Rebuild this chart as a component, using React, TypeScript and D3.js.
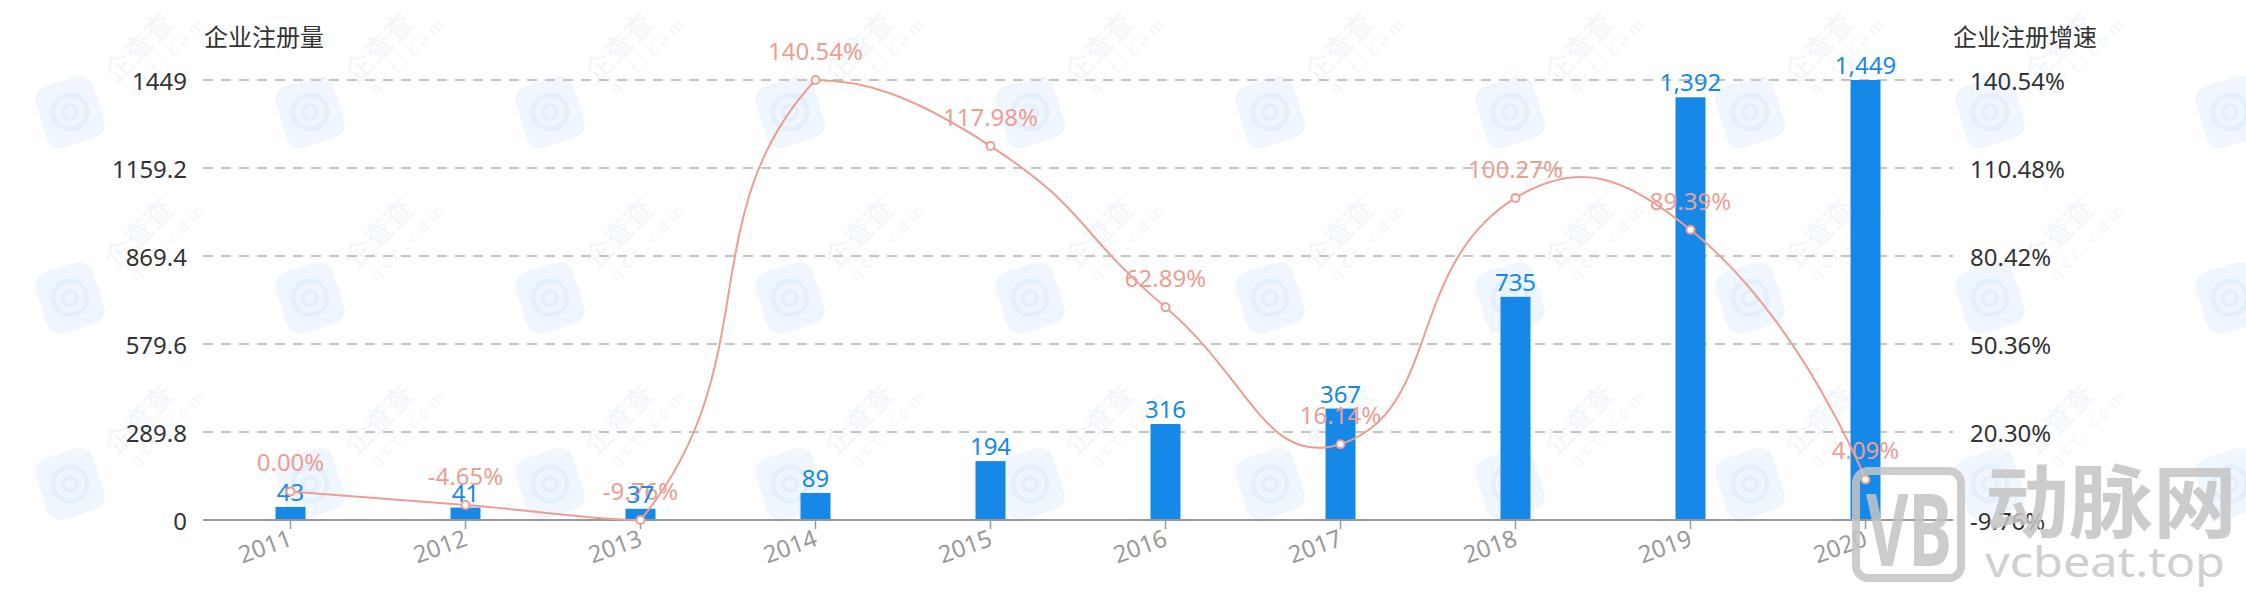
import React from "react";
import * as d3 from "d3";

const years = ["2011", "2012", "2013", "2014", "2015", "2016", "2017", "2018", "2019", "2020"];
const registrations = [43, 41, 37, 89, 194, 316, 367, 735, 1392, 1449];
const growthRates = [0.0, -4.65, -9.76, 140.54, 117.98, 62.89, 16.14, 100.27, 89.39, 4.09];
const leftTicks = [0, 289.8, 579.6, 869.4, 1159.2, 1449];
const rightTicks = [-9.76, 20.3, 50.36, 80.42, 110.48, 140.54];
const leftAxisName = "企业注册量";
const rightAxisName = "企业注册增速";

const W = 2246;
const H = 596;
const PLOT = { left: 203, right: 1953, top: 80, bottom: 520 };
const FONT = "'Noto Sans', 'Noto Sans CJK SC', sans-serif";
const BAR_COLOR = "#1689E8";
const LINE_COLOR = "#EC9E92";
const AXIS_TEXT = "#333";

// background watermark tiling (qcc)
const wmCols = d3.range(70, 2300, 240);
const wmRows = [112, 298, 484];

function echartsSmoothPath(pts: [number, number][], smooth = 0.5): string {
  const p = d3.path();
  const minX = d3.min(pts, (d) => d[0])!;
  const maxX = d3.max(pts, (d) => d[0])!;
  const minY = d3.min(pts, (d) => d[1])!;
  const maxY = d3.max(pts, (d) => d[1])!;
  const clamp = (c: number[]) => [
    Math.max(minX, Math.min(maxX, c[0])),
    Math.max(minY, Math.min(maxY, c[1])),
  ];
  let cp0 = [pts[0][0], pts[0][1]];
  p.moveTo(pts[0][0], pts[0][1]);
  for (let i = 1; i < pts.length; i++) {
    const cur = pts[i];
    const prev = pts[i - 1];
    const next = pts[i + 1];
    let cp1: number[];
    let ratio = 0.5;
    let v = [0, 0];
    if (!next) {
      cp1 = [cur[0], cur[1]];
    } else {
      v = [next[0] - prev[0], next[1] - prev[1]];
      const lp = Math.hypot(cur[0] - prev[0], cur[1] - prev[1]);
      const ln = Math.hypot(next[0] - cur[0], next[1] - cur[1]);
      ratio = ln / (ln + lp);
      cp1 = [cur[0] - v[0] * smooth * (1 - ratio), cur[1] - v[1] * smooth * (1 - ratio)];
    }
    const c0 = clamp(cp0);
    const c1 = clamp(cp1);
    p.bezierCurveTo(c0[0], c0[1], c1[0], c1[1], cur[0], cur[1]);
    cp0 = [cur[0] + v[0] * smooth * ratio, cur[1] + v[1] * smooth * ratio];
  }
  return p.toString();
}

function QccMark({ x, y }: { x: number; y: number }) {
  const showText = x + 110 < W;
  return (
    <g transform={`translate(${x},${y})`}>
      <g transform="rotate(-18)">
        <rect x={-30} y={-32} width={60} height={64} rx={14} fill="#f0f6fe" />
        <circle cx={0} cy={0} r={17} fill="none" stroke="#e4effc" strokeWidth={5} />
        <circle cx={0} cy={0} r={7} fill="none" stroke="#e4effc" strokeWidth={4} />
      </g>
      {showText && (
        <g transform="translate(46,-28) rotate(-45)">
          <text x={0} y={0} fontSize={28} fill="#f1f6fd" fontFamily="'Noto Sans CJK SC', sans-serif">
            企查查
          </text>
          <text x={6} y={22} fontSize={16} fill="#f1f6fd" letterSpacing={6}>
            qcc.com
          </text>
        </g>
      )}
    </g>
  );
}

export default function App() {
  const x = d3.scaleBand<string>().domain(years).range([PLOT.left, PLOT.right]).padding(0);
  const yL = d3.scaleLinear().domain([0, 1449]).range([PLOT.bottom, PLOT.top]);
  const yR = d3.scaleLinear().domain([-9.76, 140.54]).range([PLOT.bottom, PLOT.top]);
  const barW = 30;
  const cx = (c: string) => (x(c) as number) + x.bandwidth() / 2;
  const linePts: [number, number][] = years.map((c, i) => [cx(c), yR(growthRates[i])]);
  const linePath = echartsSmoothPath(linePts, 0.5);
  const fmtBar = d3.format(",");

  return (
    <svg
      width={W}
      height={H}
      viewBox={`0 0 ${W} ${H}`}
      style={{ position: "absolute", left: 0, top: 0, display: "block", background: "#fff" }}
      fontFamily={FONT}
    >
      <rect x={0} y={0} width={W} height={H} fill="#fff" />

      {/* faint tiled watermark */}
      {wmRows.map((ry) => wmCols.map((cxw) => <QccMark key={`wm${ry}-${cxw}`} x={cxw} y={ry} />))}

      {/* grid lines */}
      {leftTicks.slice(1).map((t) => (
        <line
          key={"g" + t}
          x1={PLOT.left}
          x2={PLOT.right}
          y1={yL(t)}
          y2={yL(t)}
          stroke="#c4c4c4"
          strokeWidth={2}
          strokeDasharray="10,8"
        />
      ))}

      {/* left axis labels */}
      {leftTicks.map((t) => (
        <text
          key={"l" + t}
          x={PLOT.left - 16}
          y={yL(t)}
          textAnchor="end"
          dominantBaseline="central"
          fontSize={24}
          fill={AXIS_TEXT}
        >
          {String(t)}
        </text>
      ))}
      {/* right axis labels */}
      {rightTicks.map((t) => (
        <text
          key={"r" + t}
          x={PLOT.right + 17}
          y={yR(t)}
          textAnchor="start"
          dominantBaseline="central"
          fontSize={24}
          fill={AXIS_TEXT}
        >
          {t.toFixed(2) + "%"}
        </text>
      ))}

      {/* axis names */}
      <text x={PLOT.left + 1} y={36} dominantBaseline="central" fontSize={24} fill={AXIS_TEXT}>
        {leftAxisName}
      </text>
      <text x={PLOT.right} y={36} dominantBaseline="central" fontSize={24} fill={AXIS_TEXT}>
        {rightAxisName}
      </text>

      {/* bars */}
      {years.map((c, i) => (
        <rect
          key={"b" + c}
          x={cx(c) - barW / 2}
          y={yL(registrations[i])}
          width={barW}
          height={PLOT.bottom - yL(registrations[i])}
          fill={BAR_COLOR}
        />
      ))}

      {/* x axis */}
      <line x1={PLOT.left} x2={PLOT.right} y1={PLOT.bottom} y2={PLOT.bottom} stroke="#999" strokeWidth={2} />
      {years.map((c) => (
        <line key={"t" + c} x1={cx(c)} x2={cx(c)} y1={PLOT.bottom} y2={PLOT.bottom + 9} stroke="#999" strokeWidth={1.5} />
      ))}
      {years.map((c) => (
        <text
          key={"x" + c}
          x={cx(c)}
          y={PLOT.bottom + 16}
          textAnchor="end"
          dominantBaseline="central"
          fontSize={24}
          fill="#999"
          transform={`rotate(-20, ${cx(c)}, ${PLOT.bottom + 16})`}
        >
          {c}
        </text>
      ))}

      {/* line labels */}
      {years.map((c, i) => (
        <text key={"ll" + c} x={cx(c)} y={yR(growthRates[i]) - 20} textAnchor="middle" fontSize={24} fill={LINE_COLOR}>
          {growthRates[i].toFixed(2) + "%"}
        </text>
      ))}

      {/* bar labels */}
      {years.map((c, i) => (
        <text key={"bl" + c} x={cx(c)} y={yL(registrations[i]) - 6} textAnchor="middle" fontSize={24} fill={BAR_COLOR}>
          {fmtBar(registrations[i])}
        </text>
      ))}

      {/* line */}
      <path d={linePath} fill="none" stroke={LINE_COLOR} strokeWidth={2} />
      {linePts.map((p, i) => (
        <circle key={"p" + i} cx={p[0]} cy={p[1]} r={4} fill="#fff" stroke={LINE_COLOR} strokeWidth={2} />
      ))}

      {/* vcbeat watermark */}
      <g opacity={0.85}>
        <rect x={1856} y={471} width={105} height={107} rx={12} fill="none" stroke="#c4c4c4" strokeWidth={8} />
        <text x={1866} y={566} fontSize={100} fontWeight="bold" fill="#c4c4c4" textLength={86} lengthAdjust="spacingAndGlyphs">
          VB
        </text>
        <text x={1985} y={531} fontSize={80} fontWeight="bold" fill="#c4c4c4" textLength={252} lengthAdjust="spacingAndGlyphs" fontFamily="'Noto Sans CJK SC', sans-serif">
          动脉网
        </text>
        <text x={1985} y={577} fontSize={42} fill="#c8c8c8" textLength={240} lengthAdjust="spacingAndGlyphs">
          vcbeat.top
        </text>
      </g>
    </svg>
  );
}
